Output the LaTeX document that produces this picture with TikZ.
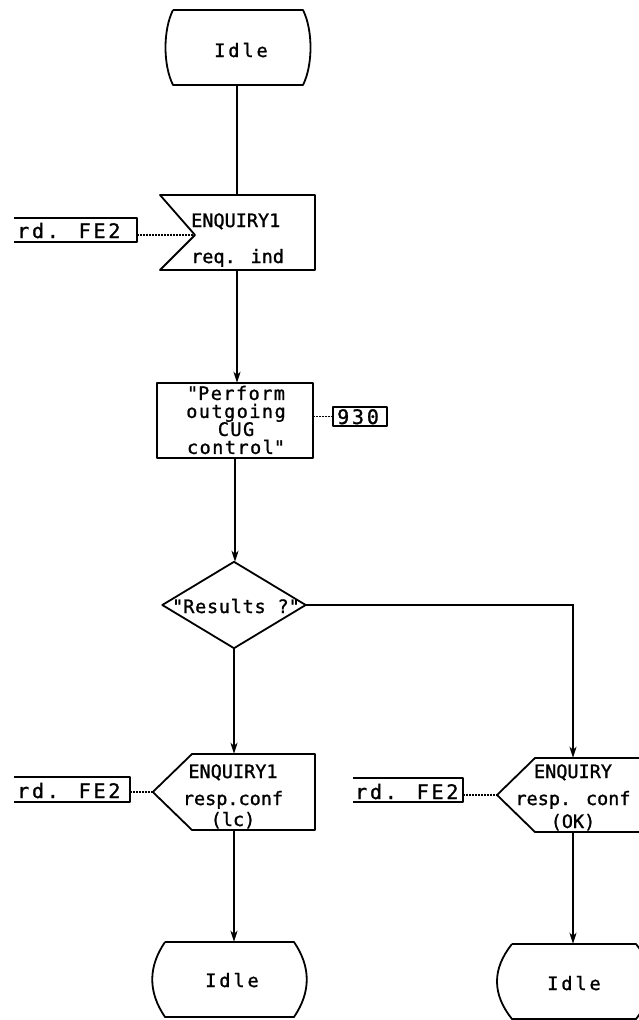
\documentclass[tikz,border=0pt]{standalone}
\usepackage{fontspec}
\setmainfont{DejaVu Sans Mono}[FakeBold=1.2]
\usetikzlibrary{arrows.meta,calc}
\begin{document}
\begin{tikzpicture}[x=1pt,y=-1pt,
  outline/.style={line width=1.8pt, line join=round},
  link/.style={line width=1.5pt},
  flow/.style={link,-{Stealth[length=11pt,width=7pt,inset=3pt]}},
  ref/.style={line width=1.5pt, dash pattern=on 1.4pt off 1.6pt},
  area/.style={draw=none, inner sep=0pt},
  lbl/.style={inner sep=0pt, font=\fontsize{18.5}{18}\selectfont},
  spaced/.style={inner sep=0pt, font=\fontsize{18.5}{18}\selectfont\addfontfeature{LetterSpace=#1}},
  bigref/.style={inner sep=0pt, font=\fontsize{20}{20}\selectfont\addfontfeature{LetterSpace=#1}}
]
\path[use as bounding box] (0,0) rectangle (639,1020);
\clip (0,0) rectangle (639,1020);

% ---- areas of the symbols (named, used by the connectors) ----
\node[area, minimum width=130pt, minimum height=75pt] (idleA) at (237,47.5) {};
\node[area, minimum width=155pt, minimum height=75pt] (in1)   at (237,232.5) {};
\coordinate (in1notch) at (195,235);
\node[area, minimum width=122pt, minimum height=24pt] (rdA)   at (76,230) {};
\node[area, minimum width=156pt, minimum height=75pt] (task)  at (235,420.5) {};
\node[area, minimum width=54pt,  minimum height=19pt] (ref930) at (360,416.5) {};
\node[area, minimum width=143pt, minimum height=86pt] (dec)   at (234,605) {};
\node[area, minimum width=162pt, minimum height=76pt] (out1)  at (234,792) {};
\node[area, minimum width=116pt, minimum height=25pt] (rdB)   at (72,789.5) {};
\node[area, minimum width=152pt, minimum height=74pt] (out2)  at (573,795) {};
\coordinate (out2tip) at (497,795);
\node[area, minimum width=110pt, minimum height=24pt] (rdC)   at (408,790) {};
\node[area, minimum width=129pt, minimum height=75pt] (idleL) at (230,979.5) {};
\node[area, minimum width=124pt, minimum height=75pt] (idleR) at (574,981.5) {};

% ---- symbol outlines ----
% start state
\draw[outline] (173,10) -- (303,10) .. controls (313,30) and (313,65) .. (303,85)
  -- (173,85) .. controls (163,65) and (163,30) .. (173,10);
% input signal
\draw[outline] (160,195) -- (315,195) -- (315,270) -- (160,270) -- (in1notch) -- cycle;
% task
\draw[outline] (157,383) rectangle (313,458);
% decision
\draw[outline] (dec.north) -- (dec.east) -- (dec.south) -- (dec.west) -- cycle;
% output signals
\draw[outline] (192,754) -- (315,754) -- (315,830) -- (192,830) -- (out1.west) -- cycle;
\draw[outline] (660,758) -- (535,758) -- (out2tip) -- (535,832) -- (660,832);
% references
\draw[outline] (14,218) -- (137,218) -- (137,242) -- (14,242);
\draw[outline] (14,777) -- (130,777) -- (130,802) -- (14,802);
\draw[outline] (353,778) -- (463,778) -- (463,802) -- (353,802);
\draw[outline] (333,407) rectangle (387,426);
% end states
\draw[outline] (165,942) -- (294,942) .. controls (311,967) and (311,992) .. (294,1017)
  -- (165,1017) .. controls (148,992) and (148,967) .. (165,942);
\draw[outline] (512,944) -- (636,944) .. controls (656,969) and (656,994) .. (636,1019)
  -- (512,1019) .. controls (492,994) and (492,969) .. (512,944);

% ---- texts ----
\node[spaced=16, anchor=base] (tIdleA) at (241,57) {Idle};
\node[lbl, anchor=base west] (tIn1a) at (191,227) {ENQUIRY1};
\node[lbl, anchor=base west] (tIn1b) at (191,263) {req. ind};
\node[bigref=14, anchor=base west] (tRdA) at (17,238) {rd. FE2};
\node[spaced=8, align=center] (tTask) at (236,420) {\textquotedbl Perform\\outgoing\\CUG\\control\textquotedbl};
\node[bigref=14, anchor=base west] (t930) at (337,424) {930};
\node[spaced=4, anchor=base] (tDec) at (236,613) {\textquotedbl Results ?\textquotedbl};
\node[lbl, anchor=base] (tOut1a) at (233,778) {ENQUIRY1};
\node[lbl, anchor=base] (tOut1b) at (233,805) {resp.conf};
\node[lbl, anchor=base] (tOut1c) at (233,826) {(lc)};
\node[bigref=14, anchor=base west] (tRdB) at (17,798) {rd. FE2};
\node[lbl, anchor=base] (tOut2a) at (573,778) {ENQUIRY};
\node[lbl, anchor=base] (tOut2b) at (573,805) {resp. conf};
\node[lbl, anchor=base] (tOut2c) at (573,828) {(OK)};
\node[bigref=14, anchor=base west] (tRdC) at (355,799) {rd. FE2};
\node[spaced=16, anchor=base] (tIdleL) at (232,987) {Idle};
\node[spaced=16, anchor=base] (tIdleR) at (574,990) {Idle};

% ---- connectors ----
\draw[link] (idleA.south) -- (idleA.south |- in1.north);
\draw[flow] (in1.south) -- (in1.south |- task.north);
\draw[flow] (task.south) -- (task.south |- dec.north);
\draw[flow] (dec.south) -- (dec.south |- out1.north);
\draw[flow] (dec.east) -| (out2.north);
\draw[flow] (out1.south) -- (out1.south |- idleL.north);
\draw[flow] (out2.south) -- (out2.south |- idleR.north);

% ---- dotted references ----
\draw[ref] (rdA.east |- in1notch) -- (in1notch);
\draw[ref] (rdB.east |- out1.west) -- (out1.west);
\draw[ref] (rdC.east |- out2tip) -- (out2tip);
\draw[ref] (task.east |- ref930.west) -- (ref930.west);
\end{tikzpicture}
\end{document}
